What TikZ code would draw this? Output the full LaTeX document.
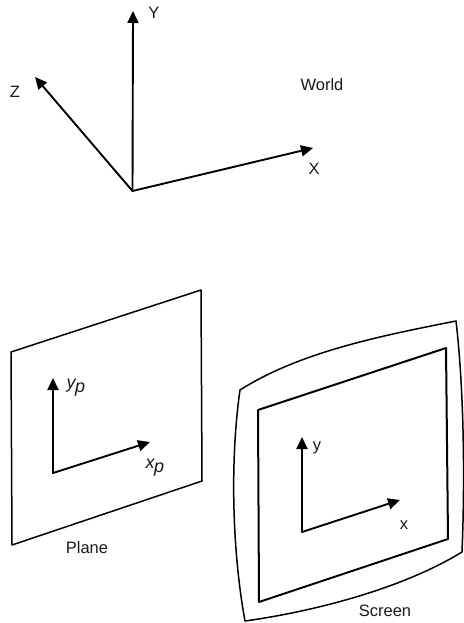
\documentclass[tikz,border=0pt]{standalone}
\usepackage{fontspec}
\setmainfont{Liberation Sans}
\usetikzlibrary{arrows.meta}
\tikzset{
  axisline/.style={line width=1.9pt,-{Triangle[length=12pt,width=11pt]},shorten >=0pt,line cap=round},
  smallaxis/.style={line width=1.9pt,-{Triangle[length=12pt,width=11pt]},line cap=round},
  frameline/.style={line width=1.5pt,line join=round},
  innerframe/.style={line width=2pt,line join=round},
  lbl/.style={inner sep=0pt,font=\fontsize{16.5}{18}\selectfont,text=black!90},
  mlbl/.style={inner sep=0pt,font=\fontsize{18}{20}\selectfont\itshape,text=black!90},
}
\begin{document}
\begin{tikzpicture}[x=1pt,y=-1pt]
\useasboundingbox (0,0) rectangle (463,623);
% World
\coordinate (wo) at (132.5,191);
\coordinate (wy) at (133,11);
\coordinate (wz) at (35,77);
\coordinate (wx) at (313,148);
\draw[axisline] (wo) -- (wy);
\draw[axisline] (wo) -- (wz);
\draw[axisline] (wo) -- (wx);
\node[lbl] (ly) at (154,13) {Y};
\node[lbl] (lz) at (15,92) {Z};
\node[lbl] (lx) at (314,169) {X};
\node[lbl] (lw) at (322,85) {World};
% Plane
\coordinate (p1) at (11,352);
\coordinate (p2) at (201,290);
\coordinate (p3) at (202,481);
\coordinate (p4) at (12,545);
\draw[frameline] (p1) -- (p2) -- (p3) -- (p4) -- cycle;
\coordinate (po) at (53,473);
\coordinate (py) at (53,378);
\coordinate (px) at (150,442);
\draw[smallaxis] (po) -- (py);
\draw[smallaxis] (po) -- (px);
\node[mlbl] (lyp) at (76,388) {y\kern-0.5pt\raisebox{-4pt}{p}};
\node[mlbl] (lxp) at (155,468) {x\kern-0.5pt\raisebox{-4pt}{p}};
\node[lbl] (lp) at (87,548) {Plane};
% Screen
\coordinate (s1) at (240,390);
\coordinate (s2) at (456,321);
\coordinate (s3) at (462,552);
\coordinate (s4) at (245,621);
\draw[frameline] (s1) .. controls (300,352) and (380,336) .. (s2)
  .. controls (464,390) and (465,480) .. (s3)
  .. controls (400,590) and (310,612) .. (s4)
  .. controls (232,550) and (230,460) .. cycle;
\coordinate (i1) at (258,410);
\coordinate (i2) at (446,348);
\coordinate (i3) at (448,539);
\coordinate (i4) at (259,602);
\draw[innerframe] (i1) -- (i2) -- (i3) -- (i4) -- cycle;
\coordinate (so) at (302,532);
\coordinate (sy) at (302,437);
\coordinate (sx) at (400,500);
\draw[smallaxis] (so) -- (sy);
\draw[smallaxis] (so) -- (sx);
\node[lbl] (lsy) at (317,448) {y};
\node[lbl] (lsx) at (404,525) {x};
\node[lbl] (lsc) at (385,611) {Screen};
\end{tikzpicture}
\end{document}
